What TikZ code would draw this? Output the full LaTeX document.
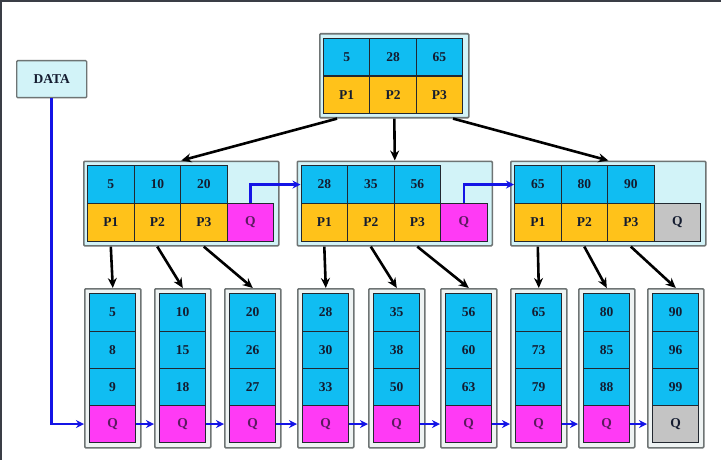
\documentclass[tikz,border=0pt]{standalone}
\usepackage{fontspec}
\setmainfont{Liberation Serif}
\usetikzlibrary{arrows.meta,calc}
\definecolor{keyblue}{HTML}{10BDF2}
\definecolor{ptrorange}{HTML}{FFC21A}
\definecolor{qmag}{HTML}{FF3AF5}
\definecolor{qgray}{HTML}{C4C4C4}
\definecolor{framecyan}{HTML}{D2F3F8}
\definecolor{leafbg}{HTML}{EEF3F3}
\definecolor{framegray}{HTML}{6E7474}
\definecolor{celldark}{HTML}{222830}
\definecolor{txt}{HTML}{141C30}
\definecolor{qtext}{HTML}{5A1A5E}
\definecolor{linkblue}{HTML}{1414E6}
\definecolor{edge}{HTML}{3A3E46}
\begin{document}
\begin{tikzpicture}[x=1pt,y=-1pt,
  frame/.style={draw=framegray,line width=1.6pt,fill=framecyan,rounded corners=1pt,inner sep=0,anchor=north west},
  leafframe/.style={draw=framegray,line width=1.6pt,fill=leafbg,rounded corners=1pt,inner sep=0,anchor=north west},
  cell/.style={draw=celldark,line width=1.1pt,inner sep=0,anchor=north west,
    font=\bfseries\fontsize{13.5}{15}\selectfont,text=txt},
  key/.style={cell,fill=keyblue},
  ptr/.style={cell,fill=ptrorange},
  qm/.style={cell,fill=qmag,text=qtext},
  qg/.style={cell,fill=qgray},
  datab/.style={draw=framegray,line width=1.4pt,fill=framecyan,rounded corners=1pt,inner sep=0,anchor=north west,
    minimum width=70pt,minimum height=37pt,font=\bfseries\fontsize{13.5}{15}\selectfont,text=txt},
  tree/.style={line width=2.6pt,black,-{Stealth[length=10pt,width=9pt]}},
  link/.style={line width=2.6pt,linkblue,-{Stealth[length=8pt,width=8pt]}}
]
\useasboundingbox (0,0) rectangle (721,460);
\fill[white] (0,0) rectangle (721,460);
\fill[edge] (0,0) rectangle (721,2);
\fill[edge] (0,0) rectangle (1.5,460);

% DATA box
\node[datab] (data) at (16,60) {DATA};

% root node
\node[frame,minimum width=149pt,minimum height=84pt] (root) at (319,33) {};
\foreach \k/\p [count=\j from 0] in {5/P1,28/P2,65/P3}{
  \node[key,minimum width=46.3pt,minimum height=37.5pt] (rk\j) at (323+46.3*\j,38) {\k};
  \node[ptr,minimum width=46.3pt,minimum height=37.5pt] (rp\j) at (323+46.3*\j,75.5) {\p};
}

% internal nodes
\foreach \n/\xo/\ka/\kb/\kc in {1/87/5/10/20, 2/300.5/28/35/56, 3/514/65/80/90}{
  \node[frame,minimum width=195pt,minimum height=84.5pt] (i\n) at (\xo-4,160.5) {};
  \foreach \k [count=\j from 1] in {\ka,\kb,\kc}{
    \node[key,minimum width=46.5pt,minimum height=38pt] (i\n k\j) at (\xo+46.5*\j-46.5,165) {\k};
    \node[ptr,minimum width=46.5pt,minimum height=37.5pt] (i\n p\j) at (\xo+46.5*\j-46.5,203) {P\j};
  }
}
\node[qm,minimum width=46.5pt,minimum height=37.5pt] (i1q) at (87+139.5,203) {Q};
\node[qm,minimum width=46.5pt,minimum height=37.5pt] (i2q) at (300.5+139.5,203) {Q};
\node[qg,minimum width=46.5pt,minimum height=37.5pt] (i3q) at (514+139.5,203) {Q};

% leaves
\foreach \n/\xo/\a/\b/\c in {1/89/5/8/9, 2/159/10/15/18, 3/229/20/26/27, 4/302/28/30/33,
  5/373/35/38/50, 6/445/56/60/63, 7/515/65/73/79, 8/583/80/85/88, 9/652/90/96/99}{
  \node[leafframe,minimum width=56pt,minimum height=159pt] (l\n) at (\xo-5,288) {};
  \node[key,minimum width=46pt,minimum height=37.5pt] (l\n a) at (\xo,293) {\a};
  \node[key,minimum width=46pt,minimum height=37.5pt] (l\n b) at (\xo,330.5) {\b};
  \node[key,minimum width=46pt,minimum height=37pt] (l\n c) at (\xo,368) {\c};
}
\foreach \n/\xo in {1/89,2/159,3/229,4/302,5/373,6/445,7/515,8/583}{
  \node[qm,minimum width=46pt,minimum height=37pt] (l\n q) at (\xo,405) {Q};
}
\node[qg,minimum width=46pt,minimum height=37pt] (l9q) at (652,405) {Q};

% root -> internal
\draw[tree] ($(root.south west)!0.12!(root.south east)$) -- (i1.north);
\draw[tree] (root.south) -- (i2.north);
\draw[tree] ($(root.south west)!0.89!(root.south east)$) -- (i3.north);

% internal -> leaves
\foreach \n/\la/\lb/\lc in {1/1/2/3, 2/4/5/6, 3/7/8/9}{
  \draw[tree] (i\n p1.south |- i\n.south) -- (l\la.north);
  \draw[tree] (i\n p2.south |- i\n.south) -- (l\lb.north);
  \draw[tree] (i\n p3.south |- i\n.south) -- (l\lc.north);
}

% internal Q links
\draw[link] (i1q.north) |- (i2k1.west);
\draw[link] (i2q.north) |- (i3k1.west);

% leaf links
\draw[link] (data.south) |- (l1.west |- l1q.west);
\foreach \a/\b in {1/2,2/3,3/4,4/5,5/6,6/7,7/8,8/9}{
  \draw[link] (l\a q.east) -- (l\b.west |- l\a q.east);
}
\end{tikzpicture}
\end{document}
